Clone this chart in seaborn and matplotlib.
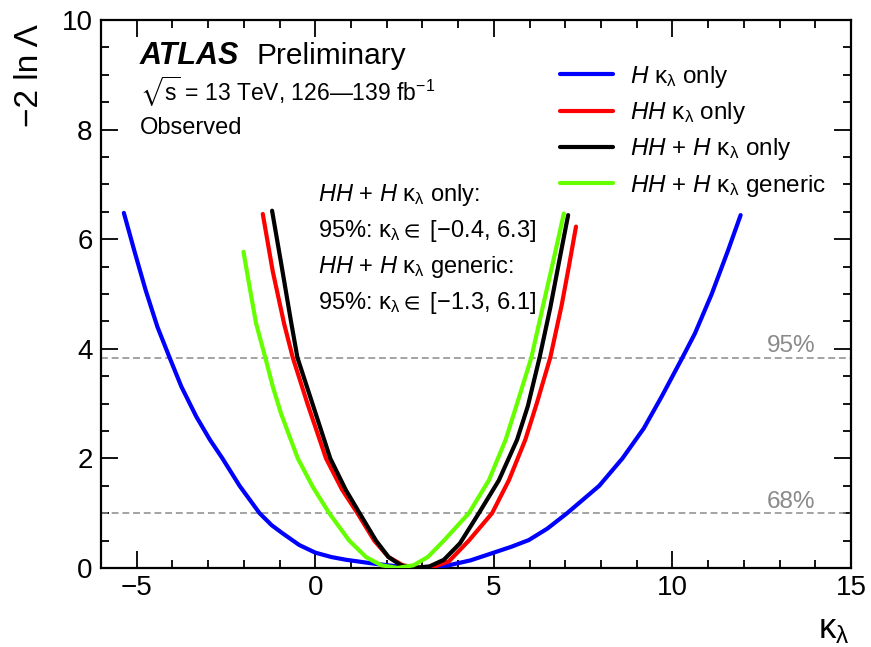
import numpy as np
import pandas as pd
import matplotlib
matplotlib.use("Agg")
import matplotlib.pyplot as plt
import seaborn as sns
from matplotlib.lines import Line2D
from matplotlib.ticker import MultipleLocator

# ---------------- data ----------------
blue_x = [-5.36, -5.05, -4.75, -4.42, -4.08, -3.75, -3.33, -2.95, -2.6, -2.12, -1.56, -1.22, -0.91, -0.45, 0.0, 0.45,
          0.86, 1.3, 1.69, 2.3, 2.8, 3.3, 3.74, 4.35, 4.95, 5.5, 5.98, 6.5, 7.05, 7.95, 8.6, 9.2, 9.70,
          10.28, 10.63, 11.1, 11.56, 11.91]
blue_y = [6.48, 5.75, 5.07, 4.40, 3.84, 3.31, 2.76, 2.34, 2.0, 1.5, 1.0, 0.78, 0.63, 0.42, 0.28, 0.20,
          0.15, 0.11, 0.075, 0.03, 0.0, 0.02, 0.05, 0.14, 0.27, 0.39, 0.51, 0.72, 1.0, 1.5, 2.0, 2.55, 3.13,
          3.84, 4.28, 5.0, 5.80, 6.44]

red_x = [-1.47, -1.19, -0.87, -0.63, -0.22, 0.3, 0.75, 1.18, 1.65, 2.05, 2.45, 2.9, 3.35, 3.74,
         4.3, 4.95, 5.42, 5.88, 6.2, 6.58, 6.9, 7.1, 7.30]
red_y = [6.46, 5.41, 4.45, 3.84, 3.0, 2.0, 1.43, 1.0, 0.5, 0.2, 0.05, 0.0, 0.03, 0.12,
         0.5, 1.0, 1.6, 2.34, 3.0, 3.84, 4.8, 5.5, 6.23]

black_x = [-1.21, -0.94, -0.68, -0.50, -0.08, 0.42, 0.85, 1.24, 1.7, 2.05, 2.4, 2.75, 3.2, 3.6,
           4.05, 4.58, 5.14, 5.65, 5.95, 6.28, 6.58, 6.83, 7.08]
black_y = [6.52, 5.5, 4.5, 3.84, 3.0, 2.0, 1.43, 1.0, 0.5, 0.2, 0.05, 0.0, 0.03, 0.15,
           0.45, 1.0, 1.6, 2.34, 2.95, 3.84, 4.75, 5.6, 6.44]

green_x = [-2.01, -1.84, -1.66, -1.40, -1.19, -0.96, -0.49, -0.07, 0.39, 0.95, 1.42, 1.85, 2.3, 2.75,
           3.15, 3.6, 4.3, 4.86, 5.33, 5.65, 6.05, 6.4, 6.68, 6.96]
green_y = [5.77, 5.13, 4.47, 3.84, 3.31, 2.82, 2.0, 1.48, 1.0, 0.5, 0.2, 0.05, 0.0, 0.05,
           0.2, 0.5, 1.0, 1.6, 2.34, 3.0, 3.84, 4.85, 5.65, 6.47]

series_names = ["H only", "HH only", "HH+H only", "HH+H generic"]
series_colors = ["#0000ff", "#ff0000", "#000000", "#66ff00"]
legend_labels = [
    r"$\mathit{H}$ κ$_{\mathregular{λ}}$ only",
    r"$\mathit{HH}$ κ$_{\mathregular{λ}}$ only",
    r"$\mathit{HH}$ + $\mathit{H}$ κ$_{\mathregular{λ}}$ only",
    r"$\mathit{HH}$ + $\mathit{H}$ κ$_{\mathregular{λ}}$ generic",
]
threshold_values = [3.84, 1.0]
threshold_labels = ["95%", "68%"]

xticks = [-5, 0, 5, 10, 15]
xticklabels = ["−5", "0", "5", "10", "15"]
yticks = [0, 2, 4, 6, 8, 10]

# ---------------- build frame ----------------
frames = []
for name, xs, ys in zip(series_names,
                        [blue_x, red_x, black_x, green_x],
                        [blue_y, red_y, black_y, green_y]):
    frames.append(pd.DataFrame({"kl": xs, "nll": ys, "series": name}))
df = pd.concat(frames, ignore_index=True)

# ---------------- style ----------------
sns.set_style("ticks")
plt.rcParams["font.family"] = ["Liberation Sans", "DejaVu Sans"]
plt.rcParams["mathtext.fontset"] = "custom"
plt.rcParams["mathtext.rm"] = "Liberation Sans"
plt.rcParams["mathtext.it"] = "Liberation Sans:italic"
plt.rcParams["mathtext.bf"] = "Liberation Sans:bold"
plt.rcParams["mathtext.sf"] = "Liberation Sans"
plt.rcParams["mathtext.fallback"] = "stixsans"
plt.rcParams["lines.solid_joinstyle"] = "round"
for key in ["text.color", "axes.labelcolor", "xtick.color", "ytick.color", "axes.edgecolor"]:
    plt.rcParams[key] = "black"

fig = plt.figure(figsize=(8.71, 6.47), dpi=100)
W, H = 871, 647
ax = fig.add_axes([101 / W, 1 - 568 / H, 750 / W, 548 / H])

# threshold lines
for v in threshold_values:
    ax.axhline(v, color="#8a8a8a", lw=1.1, ls=(0, (4.5, 2.5)), zorder=1)

for name, col in zip(series_names, series_colors):
    sns.lineplot(data=df[df["series"] == name], x="kl", y="nll", color=col,
                 lw=3.0, sort=False, estimator=None, ax=ax, legend=False, zorder=3)

ax.set_xlim(-6, 15)
ax.set_ylim(0, 10)
ax.set_xticks(xticks)
ax.set_yticks(yticks)
ax.set_xticklabels(xticklabels)
ax.set_yticklabels([str(t) for t in yticks])
ax.xaxis.set_minor_locator(MultipleLocator(1))
ax.yaxis.set_minor_locator(MultipleLocator(0.5))
ax.tick_params(which="both", direction="in", top=True, right=True, width=1.3, color="black",
               labelcolor="black")
ax.tick_params(which="major", length=12.5, labelsize=20)
ax.tick_params(axis="x", which="major", pad=5)
ax.tick_params(axis="y", which="major", pad=6)
ax.tick_params(which="minor", length=6)
for s in ax.spines.values():
    s.set_linewidth(1.6)
    s.set_color("black")

ax.set_xlabel("")
ax.set_ylabel("")
fig.text(850 / W, 1 - 613 / H, "κ$_{\\mathregular{λ}}$", fontsize=25, ha="right", va="top")
fig.text(30 / W, 1 - 24 / H, "−2 ln Λ", fontsize=24, rotation=90, ha="center", va="top")

# threshold labels
for v, lab in zip(threshold_values, threshold_labels):
    ax.text(14.0, v + 0.1, lab, color="#8a8a8a", fontsize=17.5, ha="right", va="baseline")

# ATLAS label
fig.text(140 / W, 1 - 56 / H, "ATLAS", fontsize=22, fontweight="bold", fontstyle="italic",
         ha="left", va="center")
fig.text(256 / W, 1 - 56 / H, "Preliminary", fontsize=21.5, ha="left", va="center")
fig.text(140 / W, 1 - 92 / H, r"$\sqrt{\mathregular{s}}$ = 13 TeV, 126—139 fb$^{\mathregular{-1}}$",
         fontsize=16.5, ha="left", va="center")
fig.text(140 / W, 1 - 128 / H, "Observed", fontsize=17, ha="left", va="center")

# annotation block
ann = [
    r"$\mathit{HH}$ + $\mathit{H}$ κ$_{\mathregular{λ}}$ only:",
    r"95%: κ$_{\mathregular{λ}}\in$ [−0.4, 6.3]",
    r"$\mathit{HH}$ + $\mathit{H}$ κ$_{\mathregular{λ}}$ generic:",
    r"95%: κ$_{\mathregular{λ}}\in$ [−1.3, 6.1]",
]
for i, t in enumerate(ann):
    fig.text(318 / W, 1 - (195 + 36 * i) / H, t, fontsize=17, ha="left", va="center")

# legend
handles = [Line2D([0], [0], color=c, lw=3.0) for c in series_colors]
leg = ax.legend(handles, legend_labels, loc="upper left",
                bbox_to_anchor=(560 / W, 1 - 64 / H), bbox_transform=fig.transFigure,
                frameon=False, fontsize=17.5, handlelength=2.2, handletextpad=0.7,
                labelspacing=0.42, borderpad=0, borderaxespad=0)
for t in leg.get_texts():
    t.set_color("black")

fig.savefig("out.png", dpi=100)
